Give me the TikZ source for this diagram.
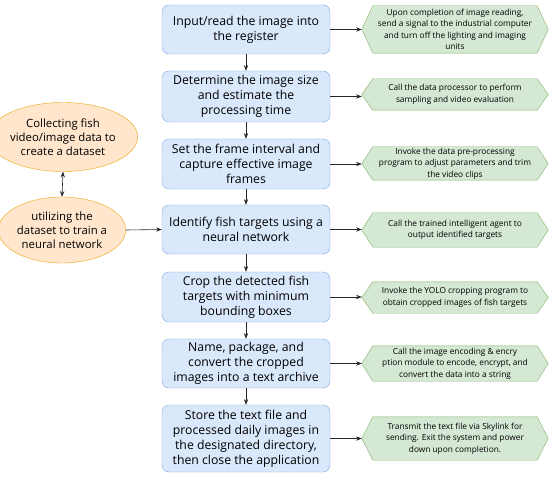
\documentclass[tikz,border=0pt]{standalone}
\usepackage{fontspec}
\setmainfont{Open Sans}
\usetikzlibrary{arrows.meta,positioning,shapes.geometric,backgrounds}
\definecolor{boxblue}{HTML}{DAE8FC}
\definecolor{lineblue}{HTML}{7EA6E0}
\definecolor{hexgreen}{HTML}{D5E8D4}
\definecolor{linegreen}{HTML}{82B366}
\definecolor{ovalorange}{HTML}{FFE6CC}
\definecolor{lineorange}{HTML}{F0A30A}

\begin{document}
\begin{tikzpicture}[
    x=1bp, y=-1bp,
    stepbox/.style = {draw=lineblue, fill=boxblue, rounded corners=7bp,
                      minimum width=168bp, align=center, inner sep=0pt,
                      font=\fontsize{12.3}{15}\selectfont},
    action/.style  = {minimum width=186bp, align=center, inner sep=0pt,
                      font=\fontsize{8.35}{11.6}\selectfont},
    hexline/.style = {draw=linegreen, fill=hexgreen},
    oval/.style    = {ellipse, draw=lineorange, fill=ovalorange, align=center,
                      inner sep=0pt, font=\fontsize{11.4}{13.8}\selectfont},
    arr/.style     = {-Stealth, semithick, black!85},
]
\useasboundingbox (0,0) rectangle (550,477);

% main steps
\node[stepbox, minimum height=49bp] (st1) at (246,29.5)  {Input/read the image into\\the register};
\node[stepbox, minimum height=51bp] (st2) at (246,96.5)  {Determine the image size\\and estimate the\\processing time};
\node[stepbox, minimum height=50bp] (st3) at (246,164)   {Set the frame interval and\\capture effective image\\frames};
\node[stepbox, minimum height=49bp] (st4) at (246,229.5) {Identify fish targets using a\\neural network};
\node[stepbox, minimum height=50bp] (st5) at (246,297)   {Crop the detected fish\\targets with minimum\\bounding boxes};
\node[stepbox, minimum height=49bp] (st6) at (246,363.5) {Name, package, and\\convert the cropped\\images into a text archive};
\node[stepbox, minimum height=67bp] (st7) at (246,438.5) {Store the text file and\\processed daily images in\\the designated directory,\\then close the application};

% actions on the right
\node[action, minimum height=47bp] (hx1) at (455,29.5)  {Upon completion of image reading,\\send a signal to the industrial computer\\and turn off the lighting and imaging\\units};
\node[action, minimum height=31bp] (hx2) at (455,94.5)  {Call the data processor to perform\\sampling and video evaluation};
\node[action, minimum height=33bp] (hx3) at (455,163.5) {Invoke the data pre-processing\\program to adjust parameters and trim\\the video clips};
\node[action, minimum height=34bp] (hx4) at (455,230)   {Call the trained intelligent agent to\\output identified targets};
\node[action, minimum height=31bp] (hx5) at (455,297.5) {Invoke the YOLO cropping program to\\obtain cropped images of fish targets};
\node[action, minimum height=35bp] (hx6) at (455,363.5) {Call the image encoding \& encry\\ption module to encode, encrypt, and\\convert the data into a string};
\node[action, minimum height=43bp] (hx7) at (455,438.5) {Transmit the text file via Skylink for\\sending. Exit the system and power\\down upon completion.};

\begin{scope}[on background layer]
  \foreach \i in {1,...,7}
    \draw[hexline] (hx\i.west) -- ([xshift=11bp]hx\i.north west) -- ([xshift=-11bp]hx\i.north east)
          -- (hx\i.east) -- ([xshift=-11bp]hx\i.south east) -- ([xshift=11bp]hx\i.south west) -- cycle;
\end{scope}

% dataset side
\node[oval, minimum width=119bp, minimum height=69bp] (ds1) at (63,137) {Collecting fish\\video/image data to\\create a dataset};
\node[oval, minimum width=117bp, minimum height=66bp] (ds2) at (62,230) {utilizing the\\dataset to train a\\neural network};

\foreach \i [evaluate=\i as \j using int(\i+1)] in {1,...,6}
  \draw[arr] (st\i.south) -- (st\j.north);
\foreach \i in {1,...,7}
  \draw[arr] (st\i.east) -- (st\i.east -| hx\i.west);
\draw[{Stealth}-{Stealth}, semithick, black!85] (ds1.south) -- (ds2.north);
\draw[arr] (ds2.east) -- (st4.west);
\end{tikzpicture}
\end{document}
